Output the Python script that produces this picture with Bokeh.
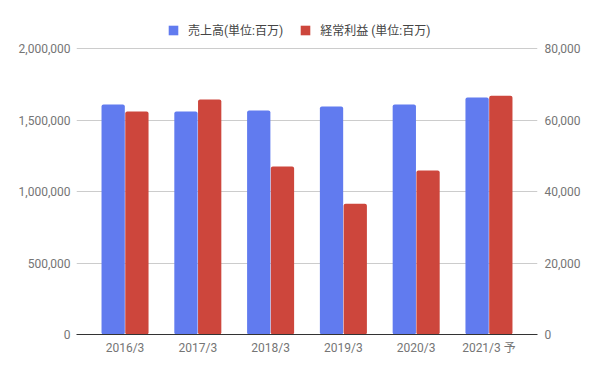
from bokeh.plotting import figure
from bokeh.models import (ColumnDataSource, FactorRange, Range1d, LinearAxis,
                          NumeralTickFormatter, Legend, LegendItem, FixedTicker)
from bokeh.transform import dodge
from bokeh.embed import file_html
from bokeh.resources import INLINE

years = ["2016/3", "2017/3", "2018/3", "2019/3", "2020/3", "2021/3 予"]
sales = [1608000, 1559000, 1566000, 1594000, 1608000, 1657000]
profit = [62400, 65700, 47000, 36600, 45900, 66800]
left_ticks = [0, 500000, 1000000, 1500000, 2000000]
right_ticks = [0, 20000, 40000, 60000, 80000]

BLUE = "#617BEF"
RED = "#CD463C"
FONT = "Roboto, 'Noto Sans CJK JP'"

# frame extends above the top gridline so that the legend sits inside it
HEAD = 334 / 286.0

src = ColumnDataSource(dict(x=years, sales=sales, profit=profit))

p = figure(width=598, height=371, output_backend="svg", toolbar_location=None,
           x_range=FactorRange(factors=years, range_padding=0.0556),
           y_range=Range1d(0, left_ticks[-1] * HEAD),
           min_border_left=76, min_border_right=61, min_border_top=0,
           min_border_bottom=37)
p.outline_line_color = None
p.extra_y_ranges = {"right": Range1d(0, right_ticks[-1] * HEAD)}

r1 = p.vbar(x=dodge("x", -0.163, range=p.x_range), top="sales", width=0.32,
            source=src, fill_color=BLUE, line_color=None, border_radius=2)
r2 = p.vbar(x=dodge("x", 0.163, range=p.x_range), top="profit", width=0.32,
            source=src, fill_color=RED, line_color=None, y_range_name="right",
            border_radius=2)

# axes
p.yaxis.ticker = FixedTicker(ticks=left_ticks)
p.yaxis.formatter = NumeralTickFormatter(format="0,0")
ra = LinearAxis(y_range_name="right", ticker=FixedTicker(ticks=right_ticks),
                formatter=NumeralTickFormatter(format="0,0"))
p.add_layout(ra, "right")

for ax in [p.yaxis[0], ra, p.xaxis[0]]:
    ax.major_tick_line_color = None
    ax.minor_tick_line_color = None
    ax.major_tick_out = 0
    ax.major_tick_in = 0
    ax.minor_tick_out = 0
    ax.minor_tick_in = 0
    ax.major_label_text_color = "#757575"
    ax.major_label_text_font = FONT
    ax.major_label_text_font_size = "12px"
p.yaxis[0].axis_line_color = None
ra.axis_line_color = None
p.yaxis[0].major_label_standoff = 6
ra.major_label_standoff = 7

p.xaxis.axis_line_color = "#333333"
p.xaxis.axis_line_width = 1
p.xaxis.major_label_standoff = 6

p.xgrid.grid_line_color = None
p.ygrid.grid_line_color = "#cccccc"
p.ygrid.grid_line_width = 1

legend = Legend(items=[LegendItem(label="売上高(単位:百万)", renderers=[r1]),
                       LegendItem(label="経常利益 (単位:百万)", renderers=[r2])],
                orientation="horizontal", location=(91, 296),
                glyph_width=12, glyph_height=12, spacing=16, label_standoff=9,
                label_text_font=FONT, label_text_font_size="12px",
                label_text_color="#444444", border_line_color=None,
                background_fill_alpha=0, padding=6, margin=0)
p.add_layout(legend, "center")

open("out.html", "w").write(file_html(p, INLINE))
